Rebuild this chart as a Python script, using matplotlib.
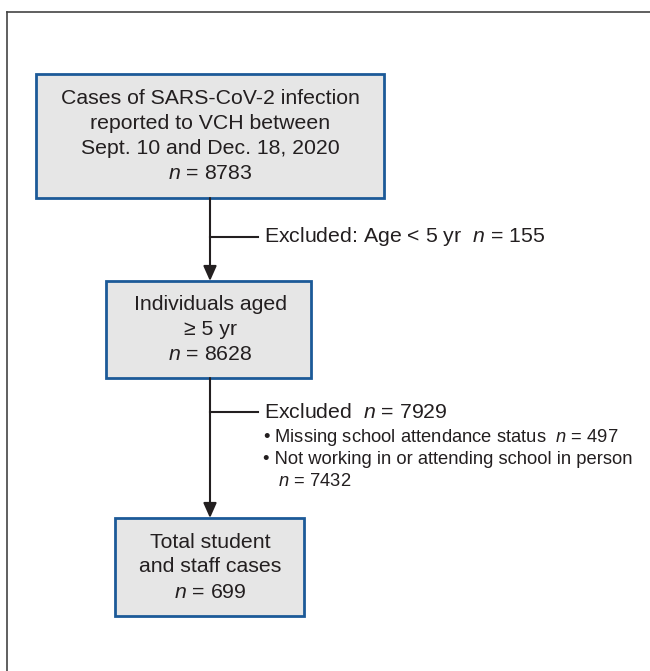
import matplotlib.pyplot as plt
from matplotlib.patches import Rectangle

plt.rcParams["font.family"] = ["Liberation Sans", "DejaVu Sans"]
plt.rcParams["mathtext.fontset"] = "custom"
plt.rcParams["mathtext.it"] = "Liberation Sans:italic"
plt.rcParams["mathtext.rm"] = "Liberation Sans"

# box texts (top to bottom)
box_lines = [
    ["Cases of SARS-CoV-2 infection", "reported to VCH between", "Sept. 10 and Dec. 18, 2020", "$\\it{n}$ = 8783"],
    ["Individuals aged", "\u2265 5 yr", "$\\it{n}$ = 8628"],
    ["Total student", "and staff cases", "$\\it{n}$ = 699"],
]
# exclusion notes
excl_heads = ["Excluded: Age < 5 yr  $\\it{n}$ = 155", "Excluded  $\\it{n}$ = 7929"]
excl_bullets = [
    [],
    ["\u2022 Missing school attendance status  $\\it{n}$ = 497",
     "\u2022 Not working in or attending school in person",
     "   $\\it{n}$ = 7432"],
]

# layout in pixel coords
boxes = [(36, 74, 384, 198), (106, 281, 311, 378), (115, 518, 304, 616)]
branch_y = [237, 412]
cx = 210
fill = "#e6e6e6"
edge = "#1c5a98"
ink = "#231f20"

fig = plt.figure(figsize=(6.5, 6.71), dpi=100)
ax = fig.add_axes([0, 0, 1, 1])
ax.set_xlim(0, 650)
ax.set_ylim(671, 0)
ax.axis("off")

# outer frame (top and left visible)
ax.plot([7, 650], [12, 12], color="#444444", lw=1.2)
ax.plot([7, 7], [12, 671], color="#444444", lw=1.2)

for (x0, y0, x1, y1), lines in zip(boxes, box_lines):
    ax.add_patch(Rectangle((x0, y0), x1 - x0, y1 - y0, facecolor=fill,
                           edgecolor=edge, lw=2))
    n = len(lines)
    mid = (y0 + y1) / 2
    step = 25
    for i, t in enumerate(lines):
        y = mid + (i - (n - 1) / 2) * step
        ax.text(cx, y, t, ha="center", va="center", fontsize=15.3, color=ink)

# arrows between boxes
for k in range(2):
    ax.annotate("", xy=(cx, boxes[k + 1][1]), xytext=(cx, boxes[k][3]),
                arrowprops=dict(arrowstyle="-|>,head_length=0.9,head_width=0.4",
                                color=ink, lw=1.5, shrinkA=0, shrinkB=0))
    by = branch_y[k]
    ax.plot([cx, 258], [by, by], color=ink, lw=1.5)
    ax.text(264, by, excl_heads[k], ha="left", va="center", fontsize=15.3, color=ink)
    for j, b in enumerate(excl_bullets[k]):
        ax.text(263, by + 25 + j * 22, b, ha="left", va="center", fontsize=13.2, color=ink)

fig.savefig("out.png", dpi=100)
